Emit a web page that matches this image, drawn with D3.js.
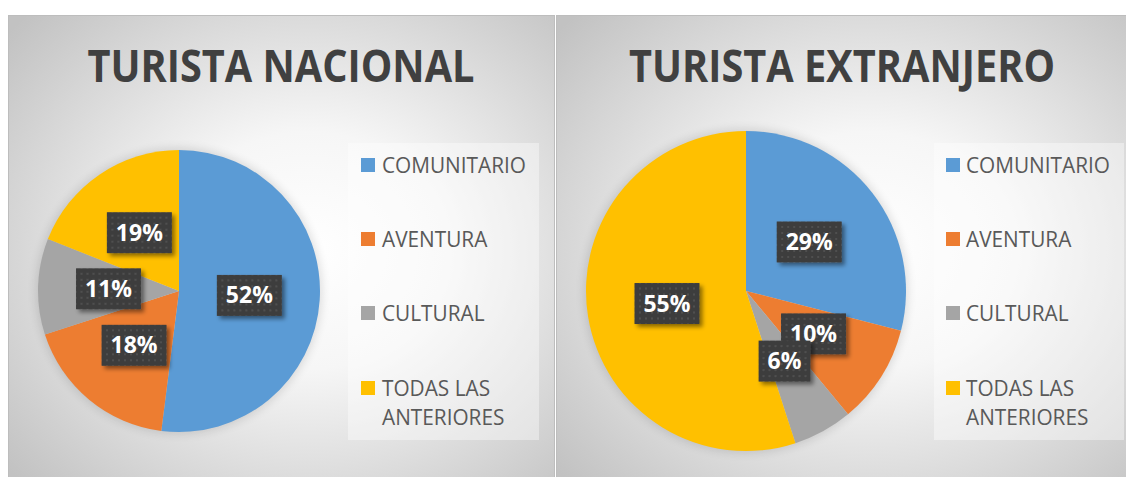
<!DOCTYPE html>
<html><head><meta charset="utf-8">
<script src="https://cdn.jsdelivr.net/npm/d3@7"></script>
<style>body{margin:0;background:#fff}svg{display:block}</style></head>
<body>
<svg id="c" width="1126" height="477"></svg>
<script>
const categories = ["COMUNITARIO", "AVENTURA", "CULTURAL", "TODAS LAS ANTERIORES"];
const legendLines = [["COMUNITARIO"], ["AVENTURA"], ["CULTURAL"], ["TODAS LAS", "ANTERIORES"]];
const colors = ["#5B9BD5", "#ED7D31", "#A5A5A5", "#FFC000"];
const titles = ["TURISTA NACIONAL", "TURISTA EXTRANJERO"];
const nacionalValues = [52, 18, 11, 19];
const extranjeroValues = [29, 10, 6, 55];

const svg = d3.select("#c");
const FONT = "'Open Sans', 'Noto Sans', sans-serif";
const defs = svg.append("defs");

const rg = defs.append("radialGradient").attr("id", "bg").attr("cx", "0.55").attr("cy", "0.5").attr("r", "0.72");
rg.append("stop").attr("offset", "0").attr("stop-color", "#ffffff");
rg.append("stop").attr("offset", "0.35").attr("stop-color", "#f6f6f6");
rg.append("stop").attr("offset", "1").attr("stop-color", "#c2c2c2");

const pat = defs.append("pattern").attr("id", "dots").attr("patternUnits", "userSpaceOnUse")
  .attr("width", 6).attr("height", 6);
pat.append("rect").attr("width", 6).attr("height", 6).attr("fill", "#3d3d3d");
pat.append("rect").attr("x", 2).attr("y", 2).attr("width", 2).attr("height", 2).attr("fill", "#505050");

const sh = defs.append("filter").attr("id", "shadow").attr("x", "-30%").attr("y", "-30%").attr("width", "170%").attr("height", "170%");
sh.append("feDropShadow").attr("dx", 3).attr("dy", 3).attr("stdDeviation", 2).attr("flood-color", "#000").attr("flood-opacity", 0.45);

const glow = defs.append("filter").attr("id", "glow").attr("x", "-20%").attr("y", "-20%").attr("width", "140%").attr("height", "140%");
glow.append("feGaussianBlur").attr("stdDeviation", 5);

const panels = [
  {x0: 8, x1: 555, title: titles[0], values: nacionalValues, cx: 179, cy: 291, r: 141,
   legendX: 348, legendW: 191, sqX: 361, txtX: 382, titleCx: 281, titleW: 387},
  {x0: 556, x1: 1127, title: titles[1], values: extranjeroValues, cx: 746, cy: 291, r: 160,
   legendX: 934, legendW: 190, sqX: 946, txtX: 966, titleCx: 842, titleW: 426}
];
const legendRowY = [165, 239, 313, 388];
const lineGap = 29;

function fitX(sel, target) {
  const w = sel.node().getComputedTextLength();
  if (w > target) sel.attr("textLength", target).attr("lengthAdjust", "spacingAndGlyphs");
}

panels.forEach((p, pi) => {
  const g = svg.append("g");
  g.append("rect").attr("x", p.x0 + 0.5).attr("y", 15.5).attr("width", p.x1 - p.x0 - 1).attr("height", 470)
    .attr("fill", "url(#bg)").attr("stroke", "#bdbdbd").attr("stroke-width", 1);

  // title
  const t = g.append("text").attr("x", p.titleCx).attr("y", 82).attr("text-anchor", "middle")
    .attr("font-family", FONT).attr("font-weight", 700).attr("font-size", 45).attr("fill", "#404040")
    .text(p.title);
  fitX(t, p.titleW);

  // pie
  const pie = d3.pie().sort(null).value(d => d)(p.values);
  const arc = d3.arc().innerRadius(0).outerRadius(p.r);
  const pg = g.append("g").attr("transform", `translate(${p.cx},${p.cy})`);
  pg.append("circle").attr("r", p.r + 2).attr("fill", "#000").attr("opacity", 0.12).attr("filter", "url(#glow)");
  pg.selectAll("path.slice").data(pie).join("path").attr("class", "slice")
    .attr("d", arc).attr("fill", (d, i) => colors[i]);

  // labels
  pie.forEach((d, i) => {
    const [lx, ly] = arc.centroid(d);
    const lg = pg.append("g").attr("transform", `translate(${lx},${ly})`);
    const txt = lg.append("text").attr("text-anchor", "middle").attr("y", 8)
      .attr("font-family", FONT).attr("font-weight", 700).attr("font-size", 23).attr("fill", "#fff")
      .text(d.data + "%");
    const tw = txt.node().getComputedTextLength();
    const bw = Math.max(50, tw + 18), bh = 41;
    lg.insert("rect", "text").attr("x", -bw / 2).attr("y", -bh / 2).attr("width", bw).attr("height", bh)
      .attr("fill", "url(#dots)").attr("filter", "url(#shadow)");
  });

  // legend
  g.append("rect").attr("x", p.legendX).attr("y", 143).attr("width", p.legendW).attr("height", 297)
    .attr("fill", "#ffffff").attr("opacity", 0.4);
  let scale = null;
  legendLines.forEach((lines, i) => {
    const cy = legendRowY[i];
    g.append("rect").attr("x", p.sqX).attr("y", cy - 7).attr("width", 14).attr("height", 14).attr("fill", colors[i]);
    lines.forEach((ln, j) => {
      const tt = g.append("text").attr("x", p.txtX).attr("y", cy + 8 + j * lineGap)
        .attr("font-family", FONT).attr("font-size", 21).attr("fill", "#595959").text(ln);
      const w = tt.node().getComputedTextLength();
      if (scale === null) scale = Math.min(1, 144 / w);
      tt.attr("textLength", w * scale).attr("lengthAdjust", "spacingAndGlyphs");
    });
  });
});
</script>
</body></html>
